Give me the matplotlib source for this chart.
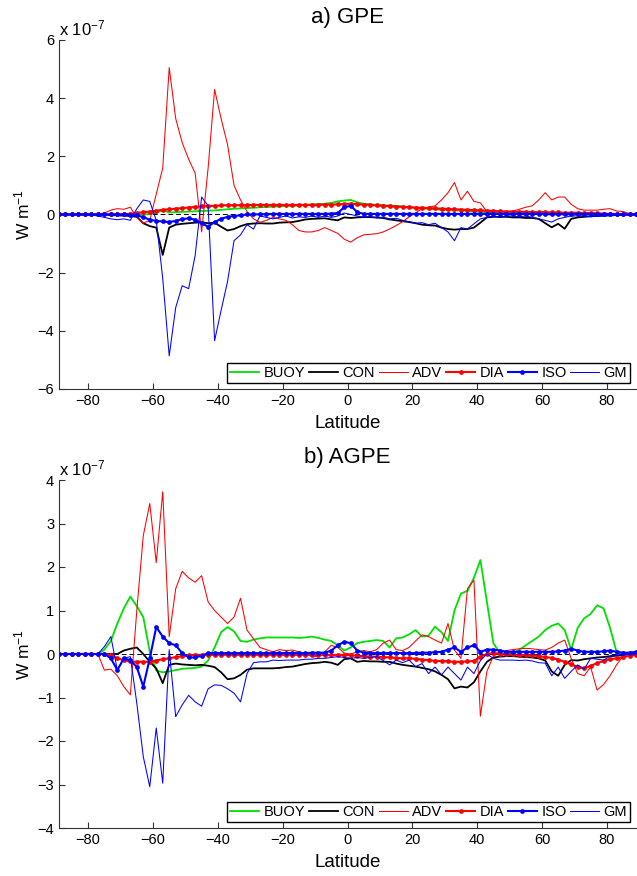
import numpy as np
import matplotlib
matplotlib.use("Agg")
import matplotlib.pyplot as plt

plt.rcParams["font.family"] = ["Liberation Sans", "DejaVu Sans"]
plt.rcParams["mathtext.fontset"] = "custom"
plt.rcParams["mathtext.rm"] = "Liberation Sans"

# ----------------------------------
# Data (units of 1e-7 W m-1), latitude every 2 degrees
# ----------------------------------

lat = np.arange(-89, 90, 2)

names = ["BUOY", "CON", "ADV", "DIA", "ISO", "GM"]

a_buoy = [
    0, 0, 0, 0, 0, 0, 0, 0, 0, 0,
    0, 0, 0, 0, 0.02, 0.05, 0.15, 0.07, 0.08, 0.09,
    0.1, 0.11, 0.12, 0.13, 0.14, 0.16, 0.18, 0.2, 0.21, 0.22,
    0.23, 0.25, 0.26, 0.27, 0.28, 0.29, 0.3, 0.3, 0.32, 0.35,
    0.36, 0.37, 0.4, 0.45, 0.48, 0.5, 0.42, 0.37, 0.35, 0.33,
    0.32, 0.31, 0.3, 0.28, 0.25, 0.22, 0.21, 0.2, 0.18, 0.16,
    0.15, 0.14, 0.14, 0.12, 0.1, 0.09, 0.08, 0.07, 0.06, 0.05,
    0.05, 0.04, 0.03, 0.03, 0.02, 0.02, 0.02, 0.02, 0.02, 0.02,
    0.02, 0.02, 0.02, 0.02, 0.01, 0.01, 0.01, 0.01, 0.01, 0.01,
]
a_con = [
    0, 0, 0, 0, 0, 0, 0, 0, -0.02, -0.03,
    -0.04, -0.05, -0.08, -0.3, -0.4, -0.45, -1.39, -0.45, -0.35, -0.32,
    -0.3, -0.28, -0.27, -0.3, -0.28, -0.42, -0.55, -0.5, -0.4, -0.33,
    -0.31, -0.3, -0.31, -0.31, -0.28, -0.27, -0.26, -0.22, -0.17, -0.15,
    -0.14, -0.13, -0.17, -0.2, -0.1, -0.12, -0.1, -0.09, -0.09, -0.1,
    -0.12, -0.17, -0.2, -0.23, -0.26, -0.3, -0.35, -0.37, -0.38, -0.45,
    -0.5, -0.52, -0.5, -0.5, -0.45, -0.28, -0.1, -0.08, -0.08, -0.08,
    -0.1, -0.1, -0.12, -0.12, -0.15, -0.3, -0.44, -0.32, -0.49, -0.15,
    -0.1, -0.08, -0.06, -0.05, -0.04, -0.03, -0.02, -0.01, 0, 0,
]
a_adv = [
    0, 0, 0, 0, 0, 0, 0.02, 0.05, 0.15, 0.2,
    0.18, 0.25, -0.1, -0.3, -0.2, 0.7, 1.6, 5.05, 3.3, 2.47,
    1.9, 1.42, -0.6, 1.6, 4.3, 3.3, 2.4, 1.0, 0.5, 0.1,
    -0.15, -0.27, -0.2, -0.1, -0.15, -0.2, -0.35, -0.55, -0.6, -0.6,
    -0.55, -0.45, -0.55, -0.65, -0.85, -0.95, -0.8, -0.7, -0.68, -0.66,
    -0.6, -0.5, -0.38, -0.25, -0.08, 0.05, 0.2, 0.25, 0.3, 0.5,
    0.75, 1.1, 0.5, 0.8, 0.45, 0.4, 0.1, 0.08, 0.1, 0.1,
    0.12, 0.18, 0.25, 0.3, 0.5, 0.75, 0.5, 0.6, 0.6, 0.35,
    0.2, 0.15, 0.15, 0.15, 0.18, 0.2, 0.12, 0.1, 0.03, 0,
]
a_dia = [
    0, 0, 0, 0, 0, 0, 0, 0, 0, 0,
    0.01, 0.03, 0.05, 0.08, 0.1, 0.13, 0.16, 0.18, 0.2, 0.22,
    0.24, 0.26, 0.28, 0.29, 0.3, 0.31, 0.32, 0.32, 0.32, 0.32,
    0.33, 0.33, 0.33, 0.33, 0.33, 0.33, 0.33, 0.33, 0.33, 0.33,
    0.33, 0.34, 0.34, 0.35, 0.36, 0.37, 0.35, 0.34, 0.33, 0.31,
    0.3, 0.28, 0.27, 0.26, 0.25, 0.24, 0.23, 0.22, 0.21, 0.2,
    0.19, 0.18, 0.17, 0.16, 0.15, 0.14, 0.13, 0.12, 0.11, 0.1,
    0.1, 0.09, 0.09, 0.08, 0.08, 0.08, 0.07, 0.07, 0.06, 0.06,
    0.06, 0.05, 0.05, 0.04, 0.03, 0.02, 0.02, 0.01, 0, 0,
]
a_iso = [
    0, 0, 0, 0, 0, 0, 0, 0, 0, 0,
    0, -0.01, -0.03, -0.09, -0.18, -0.22, -0.24, -0.26, -0.22, -0.16,
    -0.13, -0.18, -0.3, -0.42, -0.26, -0.15, -0.08, -0.05, -0.03, 0,
    0, 0.01, 0.01, 0.02, 0.02, 0.02, 0.02, 0.02, 0.02, 0.02,
    0.02, 0.02, 0.03, 0.05, 0.25, 0.3, 0.08, 0.02, 0.02, 0.02,
    0.02, 0.02, 0.02, 0.02, 0.02, 0.02, 0.02, 0.02, 0.02, 0.02,
    0.02, 0.02, 0.02, 0.02, 0.02, 0.02, 0.02, 0.02, 0.02, 0.02,
    0.02, 0.02, 0.02, 0.02, 0.02, 0.01, 0.01, 0.01, 0.01, 0.01,
    0.01, 0.01, 0.01, 0.01, 0.01, 0.01, 0, 0, 0, 0,
]
a_gm = [
    0, 0, 0, 0, 0, -0.02, -0.05, -0.1, -0.15, -0.18,
    -0.15, -0.2, 0.2, 0.5, 0.45, -0.2, -2.2, -4.86, -3.2, -2.45,
    -2.55, -1.41, 0.6, 0.3, -4.34, -3.3, -2.3, -0.9, -0.7, -0.35,
    -0.5, -0.05, -0.1, -0.15, -0.1, -0.05, -0.12, -0.08, -0.1, -0.05,
    -0.1, -0.05, -0.1, -0.05, 0.05, 0.0, -0.05, -0.1, -0.08, -0.12,
    -0.1, -0.15, -0.13, -0.2, -0.25, -0.3, -0.28, -0.35, -0.3, -0.45,
    -0.6, -0.9, -0.45, -0.5, -0.32, -0.15, -0.1, -0.05, -0.1, -0.05,
    -0.05, -0.08, -0.05, -0.1, -0.15, -0.2, -0.26, -0.15, -0.1, -0.05,
    -0.05, -0.05, -0.08, -0.05, -0.05, -0.03, -0.02, -0.01, 0, 0,
]

b_buoy = [
    0, 0, 0, 0, 0, 0, 0, 0.1, 0.3, 0.7,
    1.05, 1.32, 1.1, 0.85, 0.05, -0.38, -0.42, -0.4, -0.37, -0.34,
    -0.33, -0.32, -0.29, -0.15, 0.15, 0.5, 0.62, 0.52, 0.3, 0.28,
    0.33, 0.36, 0.38, 0.38, 0.38, 0.38, 0.38, 0.37, 0.38, 0.4,
    0.37, 0.33, 0.3, 0.2, 0.08, 0.15, 0.25, 0.28, 0.3, 0.32,
    0.3, 0.15, 0.36, 0.38, 0.45, 0.55, 0.4, 0.42, 0.63, 0.5,
    0.3, 1.0, 1.39, 1.45, 1.75, 2.16, 1.2, 0.25, 0.02, 0.0,
    0.03, 0.1, 0.2, 0.3, 0.4, 0.55, 0.65, 0.7, 0.55, 0.1,
    0.6, 0.82, 0.92, 1.12, 1.05, 0.6, 0.05, 0.01, 0, 0,
]
b_con = [
    0, 0, 0, 0, 0, 0, 0, 0, 0, 0,
    0.08, 0.12, 0.15, 0.0, -0.18, -0.33, -0.67, -0.25, -0.22, -0.24,
    -0.25, -0.26, -0.25, -0.27, -0.3, -0.42, -0.58, -0.56, -0.48, -0.36,
    -0.33, -0.33, -0.33, -0.33, -0.32, -0.3, -0.29, -0.26, -0.23, -0.21,
    -0.2, -0.18, -0.2, -0.25, -0.12, -0.1, -0.18, -0.16, -0.17, -0.17,
    -0.18, -0.18, -0.22, -0.25, -0.27, -0.29, -0.32, -0.35, -0.4, -0.48,
    -0.58, -0.79, -0.75, -0.77, -0.65, -0.4, -0.18, -0.08, -0.06, -0.05,
    -0.05, -0.06, -0.07, -0.08, -0.1, -0.15, -0.4, -0.5, -0.25, -0.14,
    -0.15, -0.12, -0.1, -0.08, -0.07, -0.05, -0.04, -0.02, 0, 0,
]
b_adv = [
    0, 0, 0, 0, 0, 0, 0, -0.37, -0.35, -0.5,
    -0.75, -0.94, 1.0, 2.72, 3.46, 2.1, 3.73, 0.4, 1.5, 1.9,
    1.75, 1.65, 1.8, 1.2, 1.0, 0.85, 0.7, 0.85, 1.28, 0.55,
    0.35, 0.15, 0.1, 0.05, 0.1, 0.08, 0.09, 0.05, 0.02, -0.06,
    -0.05, 0.05, 0.2, 0.15, 0.02, 0.0, 0.05, 0.08, 0.05, 0.1,
    0.25, 0.32, 0.1, 0.08, 0.15, 0.3, 0.44, 0.4, 0.32, 0.25,
    0.7, 0.09, -0.1, 1.5, 1.7, -1.43, -0.4, -0.05, 0.05, 0.08,
    0.1, 0.12, 0.13, 0.12, 0.1, 0.09, 0.15, 0.25, 0.32, -0.1,
    -0.45, -0.5, -0.3, -0.83, -0.7, -0.5, -0.25, -0.05, 0, 0,
]
b_dia = [
    0, 0, 0, 0, 0, 0, 0, 0, -0.03, -0.1,
    -0.14, -0.17, -0.18, -0.18, -0.18, -0.15, -0.12, -0.1, -0.07, -0.05,
    -0.03, -0.02, -0.02, -0.02, -0.02, -0.02, -0.02, -0.02, -0.02, -0.02,
    -0.02, -0.02, -0.02, -0.02, -0.02, -0.02, -0.02, -0.02, -0.02, -0.02,
    -0.02, -0.02, -0.02, -0.02, -0.02, -0.03, -0.04, -0.05, -0.06, -0.06,
    -0.07, -0.08, -0.09, -0.1, -0.1, -0.11, -0.13, -0.14, -0.16, -0.16,
    -0.17, -0.18, -0.18, -0.17, -0.16, -0.06, 0.0, 0.02, 0.01, 0.0,
    -0.01, -0.02, -0.02, -0.03, -0.05, -0.07, -0.09, -0.13, -0.18, -0.24,
    -0.3, -0.33, -0.27, -0.21, -0.16, -0.12, -0.1, -0.07, -0.04, -0.02,
]
b_iso = [
    0, 0, 0, 0, 0, 0, 0, 0, -0.1, -0.37,
    -0.1, -0.14, -0.3, -0.75, -0.1, 0.62, 0.4, 0.25, 0.2, 0.02,
    -0.08, -0.08, -0.04, 0.02, 0.02, 0.02, 0.02, 0.02, 0.02, 0.02,
    0.02, 0.02, 0.02, 0.02, 0.02, 0.02, 0.02, 0.02, 0.02, 0.03,
    0.03, 0.03, 0.08, 0.2, 0.28, 0.25, 0.08, 0.03, 0.02, 0.02,
    0.02, 0.02, 0.02, 0.02, 0.02, 0.02, 0.03, 0.03, 0.04, 0.05,
    0.1, 0.15, 0.05, 0.15, 0.2, 0.05, 0.1, 0.1, 0.08, 0.05,
    0.05, 0.05, 0.05, 0.05, 0.05, 0.05, 0.05, 0.06, 0.08, 0.12,
    0.08, 0.05, 0.05, 0.05, 0.06, 0.08, 0.05, 0.03, 0.03, 0.05,
]
b_gm = [
    0, 0, 0, 0, 0, 0, 0, 0.17, 0.4, -0.37,
    -0.1, -0.06, -1.13, -2.36, -3.05, -1.7, -2.97, 0.1, -1.44, -1.17,
    -0.95, -1.1, -1.2, -0.8, -0.71, -0.72, -0.8, -0.9, -1.1, -0.45,
    -0.2, -0.18, -0.18, -0.14, -0.15, -0.14, -0.14, -0.14, -0.12, -0.12,
    -0.1, -0.1, -0.08, -0.06, -0.08, -0.1, -0.08, -0.1, -0.08, -0.06,
    -0.15, -0.25, -0.14, -0.2, -0.14, -0.29, -0.22, -0.45, -0.3, -0.48,
    -0.3, -0.45, -0.6, -0.3, -0.45, -0.15, 0.0, -0.1, -0.14, -0.14,
    -0.14, -0.15, -0.14, -0.16, -0.2, -0.21, -0.5, -0.3, -0.56, -0.4,
    -0.25, -0.35, -0.1, -0.12, -0.14, -0.05, -0.03, -0.02, 0, 0,
]

x_ticks = [-80, -60, -40, -20, 0, 20, 40, 60, 80]
a_yticks = [-6, -4, -2, 0, 2, 4, 6]
b_yticks = [-4, -3, -2, -1, 0, 1, 2, 3, 4]

# ----------------------------------
# Line styles
# ----------------------------------

styles = {
    "BUOY": dict(color="#00e000", lw=1.3),
    "CON": dict(color="black", lw=1.3),
    "ADV": dict(color="red", lw=0.75),
    "DIA": dict(color="red", lw=1.5, marker="o", ms=2.4),
    "ISO": dict(color="blue", lw=1.5, marker="o", ms=2.4),
    "GM": dict(color="blue", lw=0.75),
}


def draw_panel(ax, series, title, yticks):
    ax.axhline(0, color="black", lw=0.7, ls=(0, (5, 3)), zorder=1)
    for name, vals in zip(names, series):
        ax.plot(lat, vals, label=name, **styles[name])

    ax.set_xlim(-89, 89)
    ax.set_ylim(yticks[0], yticks[-1])
    ax.set_xticks(x_ticks)
    ax.set_yticks(yticks)

    for side in ["top", "right"]:
        ax.spines[side].set_visible(False)
    for side in ["bottom", "left"]:
        ax.spines[side].set_linewidth(0.8)
        ax.spines[side].set_color("#333333")

    ax.tick_params(direction="in", length=4, width=0.8, labelsize=10.5,
                   colors="#333333", labelcolor="black")

    ax.set_title(title, fontsize=16, pad=12)
    ax.set_xlabel("Latitude", fontsize=13.5, labelpad=5)
    ax.set_ylabel("W m$\\mathregular{^{-1}}$", fontsize=12.5, labelpad=4)
    ax.text(0.0, 1.004, "x 10$\\mathregular{^{-7}}$", transform=ax.transAxes,
            ha="left", va="bottom", fontsize=12)

    leg = ax.legend(ncol=6, loc="lower right", fontsize=10.5,
                    handlelength=2.0, handletextpad=0.3, columnspacing=0.25,
                    borderpad=0.2, borderaxespad=0.4, fancybox=False,
                    framealpha=1, edgecolor="black")
    leg.get_frame().set_linewidth(1.0)


fig = plt.figure(figsize=(6.37, 8.76), dpi=100)

ax_a = fig.add_axes([59 / 637, 487 / 876, 577 / 637, 349 / 876])
ax_b = fig.add_axes([59 / 637, 48 / 876, 577 / 637, 348 / 876])

draw_panel(ax_a, [a_buoy, a_con, a_adv, a_dia, a_iso, a_gm], "a) GPE", a_yticks)
draw_panel(ax_b, [b_buoy, b_con, b_adv, b_dia, b_iso, b_gm], "b) AGPE", b_yticks)

fig.savefig("out.png", dpi=100)
